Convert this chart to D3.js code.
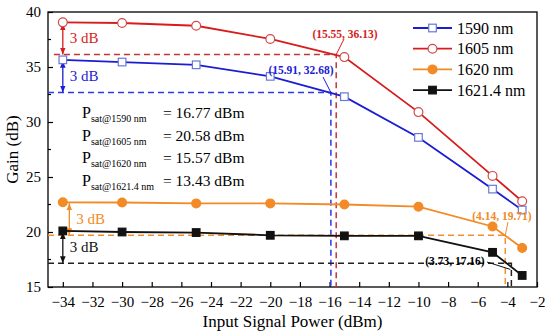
<!DOCTYPE html>
<html>
<head>
<meta charset="utf-8">
<script src="https://cdn.jsdelivr.net/npm/d3@7"></script>
<style>
  body { margin: 0; background: #fff; }
  svg { display: block; font-family: 'Liberation Serif', 'Times New Roman', serif; }
</style>
</head>
<body>
<div id="chart"></div>
<script>
const w = 550;
const h = 336;
const margin = {top: 12, right: 13, bottom: 49, left: 48};

// data
const inputPower = [-34, -30, -25, -20, -15, -10, -5, -3];
const gain1590 = [35.65, 35.45, 35.2, 34.15, 32.3, 28.6, 23.9, 22.0];
const gain1605 = [39.06, 39.0, 38.75, 37.55, 35.9, 30.9, 25.1, 22.8];
const gain1620 = [22.7, 22.68, 22.6, 22.6, 22.5, 22.3, 20.5, 18.55];
const gain16214 = [20.1, 20.0, 19.95, 19.7, 19.65, 19.65, 18.15, 16.05];

const seriesNames = ['1590 nm', '1605 nm', '1620 nm', '1621.4 nm'];
const satX = [-15.91, -15.55, -4.14, -3.73];
const satY = [32.68, 36.13, 19.71, 17.16];
const satLabels = ['(15.91, 32.68)', '(15.55, 36.13)', '(4.14, 19.71)', '(3.73, 17.16)'];
const arrowX = [-34, -34, -33.56, -34];
const psatNames = ['1590 nm', '1605 nm', '1620 nm', '1621.4 nm'];
const psatValues = ['16.77', '20.58', '15.57', '13.43'];

const xTicks = d3.range(-34, -1, 2);
const yTicks = [15, 20, 25, 30, 35, 40];
const yMinor = [17.5, 22.5, 27.5, 32.5, 37.5];

const series = [
	{name: seriesNames[0], values: gain1590, line: '#1c1cd4', mark: '#6878d8', fill: '#fff', shape: 'square'},
	{name: seriesNames[1], values: gain1605, line: '#d61c1c', mark: '#d04a4a', fill: '#fff', shape: 'circle'},
	{name: seriesNames[2], values: gain1620, line: '#f28a26', mark: '#f28a26', fill: '#f28a26', shape: 'circle'},
	{name: seriesNames[3], values: gain16214, line: '#111', mark: '#111', fill: '#111', shape: 'square'},
];
const dashColors = ['#2a3ae6', '#c83434', '#f0902c', '#222'];

const svg = d3
	.select('#chart')
	.append('svg')
	.attr('width', w)
	.attr('height', h)
	.style('background-color', '#fff');

const x = d3.scaleLinear().domain([-35, -2]).range([margin.left, w - margin.right]);
const y = d3.scaleLinear().domain([15, 40]).range([h - margin.bottom, margin.top]);

// arrowheads
const defs = svg.append('defs');
series.forEach((s, i) => {
	defs
		.append('marker')
		.attr('id', `arr${i}`)
		.attr('viewBox', '0 0 10 10')
		.attr('refX', 10)
		.attr('refY', 5)
		.attr('markerWidth', 7)
		.attr('markerHeight', 7)
		.attr('markerUnits', 'userSpaceOnUse')
		.attr('orient', 'auto-start-reverse')
		.append('path')
		.attr('d', 'M0,1 L10,5 L0,9 Z')
		.attr('fill', s.line);
});

// axes, ticks pointing inside
const xAxis = d3.axisBottom(x).tickValues(xTicks).tickSizeInner(-5).tickSizeOuter(0).tickPadding(9);
const yAxis = d3.axisLeft(y).tickValues(yTicks).tickSizeInner(-5).tickSizeOuter(0).tickPadding(7);

const gx = svg
	.append('g')
	.attr('transform', `translate(0, ${h - margin.bottom})`)
	.call(xAxis);
const gy = svg
	.append('g')
	.attr('transform', `translate(${margin.left}, 0)`)
	.call(yAxis);
[gx, gy].forEach(g => {
	g.select('.domain').remove();
	g.selectAll('line').attr('stroke', '#000').attr('stroke-width', 1.2);
	g.selectAll('text').style('font-size', '15px').style('font-family', 'Liberation Serif').attr('fill', '#000');
});

gy.selectAll('.minor')
	.data(yMinor)
	.enter()
	.append('line')
	.attr('x1', 0)
	.attr('x2', 3)
	.attr('y1', d => y(d))
	.attr('y2', d => y(d))
	.attr('stroke', '#000')
	.attr('stroke-width', 1.2);

// frame
svg
	.append('rect')
	.attr('x', margin.left)
	.attr('y', margin.top)
	.attr('width', w - margin.left - margin.right)
	.attr('height', h - margin.top - margin.bottom)
	.attr('fill', 'none')
	.attr('stroke', '#000')
	.attr('stroke-width', 1.3);

// axis titles
svg
	.append('text')
	.attr('x', (margin.left + w - margin.right) / 2)
	.attr('y', 327)
	.style('text-anchor', 'middle')
	.style('font-size', '17px')
	.text('Input Signal Power (dBm)');

svg
	.append('text')
	.attr('transform', `translate(18, ${(margin.top + h - margin.bottom) / 2}) rotate(-90)`)
	.style('text-anchor', 'middle')
	.style('font-size', '17px')
	.text('Gain (dB)');

// 3 dB dashed guides
const guides = svg.append('g');
satX.forEach((sx, i) => {
	const startX = i === 1 ? -34.6 : -35;
	guides
		.append('path')
		.attr('d', `M${x(startX)},${y(satY[i])} H${x(sx)} V${y(15)}`)
		.attr('fill', 'none')
		.attr('stroke', dashColors[i])
		.attr('stroke-width', 1.5)
		.attr('stroke-dasharray', '6,4');
});

// 3 dB arrows
series.forEach((s, i) => {
	const top = s.values[0];
	svg
		.append('line')
		.attr('x1', x(arrowX[i]))
		.attr('x2', x(arrowX[i]))
		.attr('y1', y(top) + 1)
		.attr('y2', y(satY[i]))
		.attr('stroke', s.line)
		.attr('stroke-width', 1.3)
		.attr('marker-start', `url(#arr${i})`)
		.attr('marker-end', `url(#arr${i})`);
	svg
		.append('text')
		.attr('x', x(arrowX[i]) + 7)
		.attr('y', y((top + satY[i]) / 2) + 5)
		.attr('fill', s.line)
		.style('font-size', '15px')
		.text('3 dB');
});

// data lines and markers
const line = d3
	.line()
	.x((d, i) => x(inputPower[i]))
	.y(d => y(d));

function drawMarker(g, s, cx, cy) {
	if (s.shape === 'square') {
		g.append('rect')
			.attr('x', cx - 3.8)
			.attr('y', cy - 3.8)
			.attr('width', 7.6)
			.attr('height', 7.6)
			.attr('fill', s.fill)
			.attr('stroke', s.mark)
			.attr('stroke-width', 1.2);
	} else {
		g.append('circle')
			.attr('cx', cx)
			.attr('cy', cy)
			.attr('r', 4.4)
			.attr('fill', s.fill)
			.attr('stroke', s.mark)
			.attr('stroke-width', 1.2);
	}
}

series.forEach(s => {
	svg
		.append('path')
		.datum(s.values)
		.attr('d', line)
		.attr('fill', 'none')
		.attr('stroke', s.line)
		.attr('stroke-width', 1.8);
	const g = svg.append('g');
	s.values.forEach((v, i) => drawMarker(g, s, x(inputPower[i]), y(v)));
});

// saturation point labels with leader lines
const labelPos = [
	{tx: 301, ty: 74, lx: 323, ly: 77},
	{tx: 345, ty: 38, lx: 344, ly: 39},
	{tx: 502, ty: 220, lx: 508, ly: 222},
	{tx: 455, ty: 265, lx: 487, ly: 262},
];
satLabels.forEach((t, i) => {
	const p = labelPos[i];
	svg
		.append('line')
		.attr('x1', p.lx)
		.attr('y1', p.ly)
		.attr('x2', i === 3 ? x(satX[i]) - 1 : x(satX[i]))
		.attr('y2', i === 3 ? y(16.6) : y(satY[i]))
		.attr('stroke', series[i].line)
		.attr('stroke-width', 1);
	svg
		.append('text')
		.attr('x', p.tx)
		.attr('y', p.ty)
		.attr('fill', i === 3 ? '#000' : series[i].line)
		.style('text-anchor', 'middle')
		.style('font-size', '11.5px')
		.style('font-weight', 'bold')
		.text(t);
});

// Psat text block
psatNames.forEach((n, i) => {
	const ty = 118 + i * 22.7;
	const t = svg.append('text').attr('x', 82).attr('y', ty).style('font-size', '16px');
	t.append('tspan').text('P');
	t.append('tspan').attr('dy', 4).style('font-size', '10px').text(`sat@${n}`);
	svg
		.append('text')
		.attr('x', 163)
		.attr('y', ty)
		.style('font-size', '15.5px')
		.text(`= ${psatValues[i]} dBm`);
});

// legend
const legend = svg.append('g').attr('transform', 'translate(413, 28)');
series.forEach((s, i) => {
	const row = legend.append('g').attr('transform', `translate(0, ${i * 20.7})`);
	row
		.append('line')
		.attr('x1', 0)
		.attr('x2', 39)
		.attr('stroke', s.line)
		.attr('stroke-width', 1.8);
	drawMarker(row, s, 19.5, 0);
	row
		.append('text')
		.attr('x', 44)
		.attr('y', 5.5)
		.style('font-size', '16px')
		.text(s.name);
});
</script>
</body>
</html>
